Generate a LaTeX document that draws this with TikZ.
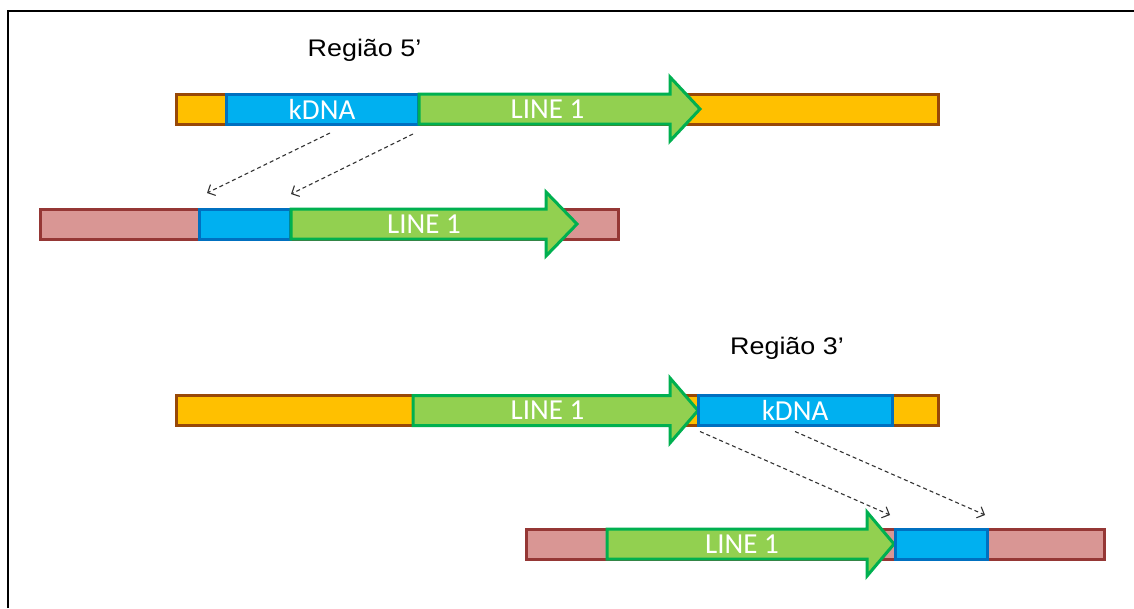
\documentclass[tikz,border=0pt]{standalone}
\usepackage{fontspec}
\newfontfamily\calib{Carlito}
\newfontfamily\arialx[FakeStretch=1.12]{Liberation Sans}
\usetikzlibrary{arrows.meta}
\definecolor{orfill}{HTML}{FFC000}
\definecolor{ordraw}{HTML}{984807}
\definecolor{bluefill}{HTML}{00B0F0}
\definecolor{bluedraw}{HTML}{0070C0}
\definecolor{grfill}{HTML}{92D050}
\definecolor{grdraw}{HTML}{00B050}
\definecolor{pkfill}{HTML}{D99694}
\definecolor{pkdraw}{HTML}{953735}
\begin{document}
\begin{tikzpicture}[x=1pt,y=-1pt,
 seg/.style={rectangle, line width=3pt, inner sep=0pt, outer sep=0pt, minimum height=30pt},
 hostbar/.style={seg, fill=orfill, draw=ordraw},
 pinkbar/.style={seg, fill=pkfill, draw=pkdraw},
 kbox/.style={seg, fill=bluefill, draw=bluedraw, text=white, font=\calib\fontsize{29}{30}\selectfont},
 lineone/.style={fill=grfill, draw=grdraw, line width=3pt, line join=miter},
 lbl/.style={text=white, font=\calib\fontsize{29}{30}\selectfont, inner sep=0pt},
 ttl/.style={font=\arialx\fontsize{24}{28}\selectfont, inner sep=0pt, anchor=base},
 transfer/.style={draw=black!80, line width=1.1pt, dash pattern=on 4pt off 3pt, -{Straight Barb[length=6pt,width=12pt]}}
]
\useasboundingbox (0,0) rectangle (1134,608);
\fill[white] (0,0) rectangle (1134,608);
\draw[line width=2pt] (8,608) -- (8,10.5) -- (1134,10.5);

% titles
\node[ttl] (r5) at (364.5,56) {Região 5’};
\node[ttl] (r3) at (787,354) {Região 3’};

% row 1
\node[hostbar, minimum width=762pt] (bar1) at (557,109) {};
\node[kbox, minimum width=192pt] (k1) at (322,109) {kDNA};
\draw[lineone] (419,94) -- (670,94) -- (670,77) -- (700,109) -- (670,141) -- (670,124) -- (419,124) -- cycle;
\node[lbl] (t1) at (547.5,109) {LINE 1};

% row 2
\node[pinkbar, minimum width=578pt] (bar2) at (329,224) {};
\node[kbox, minimum width=91pt] (k2) at (244.5,224) {};
\draw[lineone] (291,209) -- (546,209) -- (546,192) -- (577,224) -- (546,256) -- (546,239) -- (291,239) -- cycle;
\node[lbl] (t2) at (424,224) {LINE 1};

% row 3
\node[hostbar, minimum width=762pt] (bar3) at (557,410.5) {};
\draw[lineone] (413,395.5) -- (670,395.5) -- (670,378) -- (698,410.5) -- (670,443) -- (670,425.5) -- (413,425.5) -- cycle;
\node[kbox, minimum width=194pt] (k3) at (795,410.5) {kDNA};
\node[lbl] (t3) at (547.5,410.5) {LINE 1};

% row 4
\node[pinkbar, minimum width=578pt] (bar4) at (815,544) {};
\draw[lineone] (607,529) -- (867,529) -- (867,512) -- (894,544) -- (867,576) -- (867,559) -- (607,559) -- cycle;
\node[kbox, minimum width=92pt] (k4) at (941,544) {};
\node[lbl] (t4) at (742,544) {LINE 1};

% transfers
\draw[transfer] ([xshift=8pt,yshift=-9pt]k1.south) -- ([xshift=8pt,yshift=16pt]k2.north west);
\draw[transfer] ([xshift=-5pt,yshift=-10pt]k1.south east) -- ([xshift=1pt,yshift=15pt]k2.north east);
\draw[transfer] ([xshift=2pt,yshift=-6pt]k3.south west) -- ([xshift=-5pt,yshift=14pt]k4.north west);
\draw[transfer] ([yshift=-6pt]k3.south) -- ([xshift=-2pt,yshift=14pt]k4.north east);
\end{tikzpicture}
\end{document}
